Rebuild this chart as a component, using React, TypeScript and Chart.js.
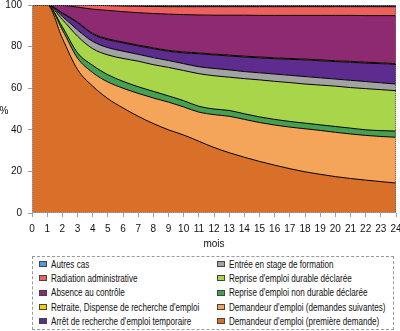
import React, { useEffect, useRef } from 'react';
import { Chart, registerables } from 'chart.js';
Chart.register(...registerables);

const months = [0,1,2,3,4,5,6,7,8,9,10,11,12,13,14,15,16,17,18,19,20,21,22,23,24];
const yTicks = [0, 20, 40, 60, 80, 100];

// individual shares (%) per month, stacked bottom -> top
const premiere   = [100,100,84,69,61,55,50.5,46.5,43,40,37.5,34.5,31.5,29,26.8,24.8,23,21.3,19.8,18.6,17.5,16.6,15.8,15.1,14.4];
const suivantes  = [0,0,4,5.5,6.5,8,9.5,11,12.3,13.3,13.5,14,15.8,17.5,18.2,18.7,19.3,20,20.7,21.1,21.3,21.4,21.5,21.7,22];
const nonDurable = [0,0,1.5,2.5,3.5,3.5,3.3,3.2,3.2,3,3,2.8,2.7,2.8,2.7,2.7,2.7,2.7,2.7,2.7,2.8,2.8,2.7,2.8,3];
const durable    = [0,0,3.5,8,8,9.5,11,12.3,12.8,13.7,14.5,15.7,16,16,16.9,17.8,18.3,18.7,18.8,19.1,19.4,19.5,19.8,19.7,19.4];
const stage      = [0,0,1.5,3,3.5,3.5,3.5,3.3,3.4,3.3,3.3,3.3,3.5,3.5,3.4,3.4,3.5,3.5,3.6,3.5,3.4,3.5,3.4,3.3,3.2];
const arret      = [0,0,1.5,3.5,3.5,3.8,4,4,4.3,4.5,5.2,6.3,6.5,6.7,7,7.2,7.4,7.7,8,8.2,8.4,8.7,8.9,9.2,9.4];
const retraite   = [0,0,0.2,0.3,0.4,0.4,0.4,0.4,0.4,0.4,0.4,0.4,0.4,0.4,0.4,0.4,0.4,0.4,0.4,0.4,0.4,0.4,0.4,0.4,0.4];
const absence    = [0,0,3.6,7.2,11.6,13.7,14.6,15.6,16.5,17.4,18,18.2,18.7,19.2,19.7,20,20.4,20.7,21,21.4,21.8,22.1,22.4,22.7,23.1];
const radiation  = [0,0,0.2,1,1.9,2.3,2.7,3.1,3.4,3.6,3.8,4,4.1,4.1,4.1,4.2,4.2,4.2,4.2,4.2,4.2,4.2,4.3,4.3,4.3];
const autres     = [0,0,0,0,0.1,0.3,0.5,0.6,0.7,0.8,0.8,0.8,0.8,0.8,0.8,0.8,0.8,0.8,0.8,0.8,0.8,0.8,0.8,0.8,0.8];

const seriesLabels = [
  "Demandeur d'emploi (première demande)",
  "Demandeur d'emploi (demandes suivantes)",
  "Reprise d'emploi non durable déclarée",
  "Reprise d'emploi durable déclarée",
  "Entrée en stage de formation",
  "Arrêt de recherche d'emploi temporaire",
  "Retraite, Dispense de recherche d'emploi",
  "Absence au contrôle",
  "Radiation administrative",
  "Autres cas",
];
const seriesData = [premiere, suivantes, nonDurable, durable, stage, arret, retraite, absence, radiation, autres];
const seriesColors = ['#d8702a', '#f5a55a', '#46a052', '#a9d54b', '#a3a3a3', '#5e2b8e', '#f5d000', '#8e2a72', '#f0605a', '#4f9ad8'];

const FONT = '"Liberation Sans", Arial, sans-serif';

const framePlugin = {
  id: 'frame',
  afterDraw(chart: any) {
    const { ctx, chartArea } = chart;
    const { left, right, top, bottom } = chartArea;
    ctx.save();
    ctx.lineWidth = 1;
    ctx.setLineDash([1, 1]);
    ctx.strokeStyle = '#666';
    ctx.beginPath();
    ctx.moveTo(left, top + 0.5); ctx.lineTo(right, top + 0.5);
    ctx.moveTo(right - 0.5, top); ctx.lineTo(right - 0.5, bottom);
    ctx.stroke();
    ctx.strokeStyle = '#7fa8d0';
    ctx.beginPath();
    ctx.moveTo(left + 0.5, top); ctx.lineTo(left + 0.5, bottom);
    ctx.moveTo(left, bottom - 0.5); ctx.lineTo(right, bottom - 0.5);
    ctx.stroke();
    ctx.setLineDash([]);
    ctx.fillStyle = '#111';
    ctx.font = '10px ' + FONT;
    ctx.textAlign = 'center';
    ctx.textBaseline = 'middle';
    ctx.fillText('%', 4, chart.scales.y.getPixelForValue(49));
    ctx.restore();
  },
};

export default function App() {
  const ref = useRef<HTMLCanvasElement>(null);
  useEffect(() => {
    const chart = new Chart(ref.current!, {
      type: 'line',
      data: {
        labels: months.map(String),
        datasets: seriesData.map((d, i) => ({
          label: seriesLabels[i],
          data: d,
          backgroundColor: seriesColors[i],
          borderColor: '#000',
          borderWidth: 1,
          pointRadius: 0,
          fill: i === 0 ? 'origin' : '-1',
          cubicInterpolationMode: 'monotone' as const,
        })),
      },
      options: {
        responsive: false,
        animation: false,
        layout: { padding: { top: 5, right: 4, left: 0, bottom: 0 } },
        plugins: { legend: { display: false }, tooltip: { enabled: false } },
        scales: {
          x: {
            type: 'category',
            offset: false,
            grid: { display: true, drawOnChartArea: false, drawTicks: true, tickLength: 4, color: '#7fa8d0' },
            border: { display: false },
            ticks: { color: '#111', font: { family: FONT, size: 10 }, padding: 6, maxRotation: 0, autoSkip: false },
            title: { display: true, text: 'mois', color: '#111', font: { family: FONT, size: 10 }, padding: { top: 0, bottom: 2 } },
            afterFit: (s: any) => { s.height = 39; s.paddingLeft = 0; s.paddingRight = 0; },
          },
          y: {
            stacked: true,
            min: 0,
            max: 100,
            afterBuildTicks: (s: any) => { s.ticks = yTicks.map((v) => ({ value: v })); },
            grid: { display: true, drawOnChartArea: false, drawTicks: true, tickLength: 4, color: '#7fa8d0' },
            border: { display: false },
            ticks: { color: '#111', font: { family: FONT, size: 10 }, padding: 6 },
            afterFit: (s: any) => { s.width = 32; s.paddingTop = 0; s.paddingBottom = 0; },
          },
        },
      },
      plugins: [framePlugin],
    } as any);
    return () => chart.destroy();
  }, []);

  const order = [9, 8, 7, 6, 5, 4, 3, 2, 1, 0];
  return (
    <div style={{ position: 'fixed', left: 0, top: 0, width: 400, height: 331, background: '#fff', overflow: 'hidden' }}>
      <canvas ref={ref} width={400} height={252} style={{ position: 'absolute', left: 0, top: 0, width: 400, height: 252 }} />
      <div
        style={{
          position: 'absolute', left: 32, top: 256, width: 362, height: 74, boxSizing: 'border-box',
          border: '1px dashed #999', paddingLeft: 6,
          display: 'grid', gridAutoFlow: 'column', gridTemplateRows: 'repeat(5, 14.3px)', gridTemplateColumns: '178px 1fr',
          fontFamily: FONT, fontSize: 10, color: '#111',
        }}
      >
        {order.map((i) => (
          <div key={i} style={{ display: 'flex', alignItems: 'center', whiteSpace: 'nowrap', height: 14.3, overflow: 'visible' }}>
            <span style={{ display: 'inline-block', flexShrink: 0, width: 8, height: 6, boxSizing: 'border-box', border: '1px solid #444', background: seriesColors[i], marginRight: 4 }} />
            <span style={{ display: 'inline-block', transform: 'scaleX(0.81)', transformOrigin: '0 50%' }}>{seriesLabels[i]}</span>
          </div>
        ))}
      </div>
    </div>
  );
}
